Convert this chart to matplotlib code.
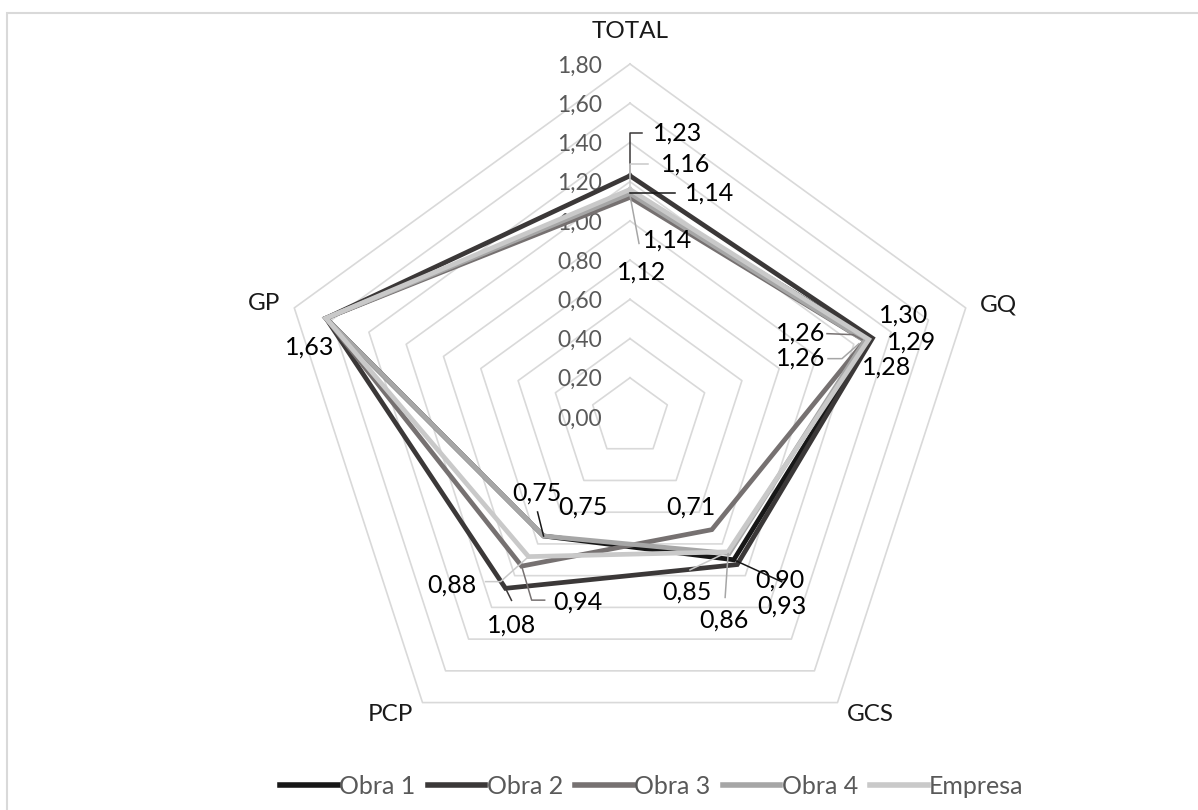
import numpy as np
import matplotlib
matplotlib.use("Agg")
import matplotlib.pyplot as plt
import matplotlib.transforms as mtransforms
from matplotlib.lines import Line2D
from matplotlib.patches import Rectangle

plt.rcParams['font.family'] = ['Lato', 'DejaVu Sans']

# ---- data -------------------------------------------------------------
categories = ["TOTAL", "GQ", "GCS", "PCP", "GP"]
series_names = ["Obra 1", "Obra 2", "Obra 3", "Obra 4", "Empresa"]
obra1 = [1.14, 1.29, 0.90, 0.75, 1.63]
obra2 = [1.23, 1.30, 0.93, 1.08, 1.63]
obra3 = [1.12, 1.26, 0.71, 0.94, 1.63]
obra4 = [1.14, 1.26, 0.86, 0.75, 1.63]
empresa = [1.16, 1.28, 0.85, 0.88, 1.63]
series_values = [obra1, obra2, obra3, obra4, empresa]
radial_ticks = [0.0, 0.2, 0.4, 0.6, 0.8, 1.0, 1.2, 1.4, 1.6, 1.8]

# ---- style ------------------------------------------------------------
colors = ["#171717", "#3b3838", "#767171", "#a6a6a6", "#c9c9c9"]
grid_color = "#d9d9d9"
line_w = 3.4

# label placement: (series index, category index) -> (dx, dy) of the label
# centre in pixels from the point (y down), plus optional leader polyline
label_layout = {
    (1, 0): ((48, -43), [(0, 0), (0, -43), (12, -43)]),
    (0, 0): ((80, 0), [(0, 0), (45, 0)]),
    (4, 0): ((56, -25), [(0, -3), (0, -26), (18, -26)]),
    (3, 0): ((38, 47), [(0, 2), (9, 50)]),
    (2, 0): ((12, 75), None),
    (1, 1): ((31, -23), None),
    (0, 1): ((41, 3), None),
    (4, 1): ((18, 28), None),
    (2, 1): ((-64, -8), [(-3, -1), (-12, -6), (-38, -7)]),
    (3, 1): ((-64, 17), [(-6, 3), (-23, 18), (-37, 18)]),
    (0, 2): ((46, 20), [(0, 0), (48, 22)]),
    (1, 2): ((45, 42), None),
    (3, 2): ((-5, 67), [(-1, 0), (-4, 44)]),
    (4, 2): ((-41, 40), [(0, 0), (-38, 18)]),
    (2, 2): ((-21, -23), None),
    (1, 3): ((6, 37), [(0, 0), (6, 12)]),
    (2, 3): ((56, 36), [(0, 0), (10, 34), (23, 34)]),
    (4, 3): ((-77, 28), [(0, 0), (-28, 25), (-43, 25)]),
    (0, 3): ((-7, -43), [(0, 0), (-6, -24)]),
    (3, 3): ((39, -29), None),
    (0, 4): ((-16, 29), None),
}

# ---- figure -----------------------------------------------------------
W, H = 1198, 810
fig = plt.figure(figsize=(W / 100, H / 100), dpi=100)
fig.patch.set_facecolor("white")

# chart-area border (top and left edges visible)
fig.add_artist(Rectangle((7 / W, -0.05), 1.2, 1 - 13 / H + 0.05,
                         transform=fig.transFigure, fill=False,
                         edgecolor=grid_color, linewidth=1.5))

cx, cy, R = 630, 417, 353
ax = fig.add_axes([(cx - R) / W, (H - cy - R) / H, 2 * R / W, 2 * R / H],
                  projection="polar")
ax.set_theta_zero_location("N")
ax.set_theta_direction(-1)
ax.set_ylim(0, radial_ticks[-1])
ax.set_axis_off()

n = len(categories)
theta = np.arange(n) * 2 * np.pi / n
theta_closed = np.append(theta, theta[0])

# polygon gridlines
for r in radial_ticks[1:]:
    ax.plot(theta_closed, [r] * (n + 1), color=grid_color, lw=1.2,
            zorder=1, clip_on=False)

# radial tick labels along the top spoke
for r in radial_ticks:
    ax.annotate(f"{r:.2f}".replace(".", ","), xy=(0, r), xytext=(-28, -2),
                textcoords="offset pixels", ha="right", va="center",
                fontsize=16.5, color="#595959", annotation_clip=False)

# category labels
cat_offsets = [((0, 33), "center"), ((14, 3), "left"), ((9, -12), "left"),
               ((-9, -12), "right"), ((-14, 4), "right")]
for i, cat in enumerate(categories):
    (dx, dy), ha = cat_offsets[i]
    ax.annotate(cat, xy=(theta[i], radial_ticks[-1]), xytext=(dx, dy),
                textcoords="offset pixels", ha=ha, va="center",
                fontsize=17.5, color="#1a1a1a", annotation_clip=False)

# series lines
handles = []
for k, vals in enumerate(series_values):
    v = np.append(vals, vals[0])
    ln, = ax.plot(theta_closed, v, color=colors[k], lw=line_w,
                  solid_joinstyle="miter", zorder=3 + k, clip_on=False,
                  label=series_names[k])
    handles.append(ln)

# data labels with leader lines
for (k, i), ((dx, dy), leader) in label_layout.items():
    val = series_values[k][i]
    if leader:
        tr = mtransforms.ScaledTranslation(theta[i], val, ax.transData)
        xs = [p[0] for p in leader]
        ys = [-p[1] for p in leader]
        fig.add_artist(Line2D(xs, ys, transform=tr, color=colors[k],
                              lw=1.1, zorder=20))
    ax.annotate(f"{val:.2f}".replace(".", ","), xy=(theta[i], val),
                xytext=(dx, -dy), textcoords="offset pixels",
                ha="center", va="center", fontsize=18, color="black",
                zorder=30, annotation_clip=False)

fig.legend(handles=handles, loc="center", ncol=5,
           bbox_to_anchor=(652 / W, 1 - 786 / H), frameon=False,
           fontsize=18, labelcolor="#595959", handlelength=2.3,
           handletextpad=0.05, columnspacing=0.5)
for h in fig.legends[0].get_lines():
    h.set_linewidth(4)

fig.savefig("out.png", dpi=100, facecolor="white")
